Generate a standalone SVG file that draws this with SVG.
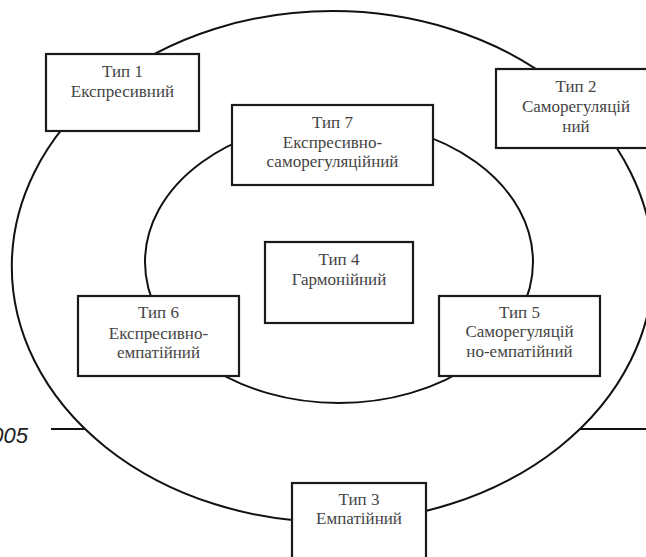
<svg xmlns="http://www.w3.org/2000/svg" width="646" height="557" viewBox="0 0 646 557">
<style>
.bg{fill:#fff}
.ell{fill:none;stroke:#111;stroke-width:2}
.ln{stroke:#111;stroke-width:2;fill:none}
.box{fill:#fff;stroke:#1a1a1a;stroke-width:2.2}
.t{font-size:17px;fill:#444;text-anchor:middle}
.lbl{font-family:'Liberation Sans',Arial,sans-serif;font-size:22px;font-style:italic;fill:#222;text-anchor:end}
</style>
<rect class="bg" x="0" y="0" width="646" height="557"/>
<g id="connectors">
<ellipse class="ell" cx="332.5" cy="266.5" rx="320.7" ry="255.5"/>
<ellipse class="ell" cx="339" cy="262" rx="194" ry="141"/>
<line class="ln" x1="51" y1="429" x2="85" y2="429"/>
<line class="ln" x1="580" y1="429" x2="646" y2="429"/>
</g>
<text class="lbl" x="28" y="443">005</text>
<g id="nodes" font-family="Liberation Serif, Times New Roman, Tinos, Noto Serif, DejaVu Serif, serif">
<g id="node1">
<rect class="box" x="46" y="54" width="153" height="77"/>
<text class="t" x="122.5" y="77">Тип 1</text>
<text class="t" x="122.5" y="97">Експресивний</text>
</g>
<g id="node2">
<rect class="box" x="496" y="69" width="160" height="79"/>
<text class="t" x="576" y="92">Тип 2</text>
<text class="t" x="576" y="112">Саморегуляцій</text>
<text class="t" x="576" y="132">ний</text>
</g>
<g id="node7">
<rect class="box" x="232" y="105" width="201" height="80"/>
<text class="t" x="332.5" y="128">Тип 7</text>
<text class="t" x="332.5" y="148">Експресивно-</text>
<text class="t" x="332.5" y="167">саморегуляційний</text>
</g>
<g id="node4">
<rect class="box" x="265" y="242" width="148" height="81"/>
<text class="t" x="339" y="265">Тип 4</text>
<text class="t" x="339" y="285">Гармонійний</text>
</g>
<g id="node6">
<rect class="box" x="78" y="296" width="161" height="80"/>
<text class="t" x="158.5" y="318">Тип 6</text>
<text class="t" x="158.5" y="339">Експресивно-</text>
<text class="t" x="158.5" y="358">емпатійний</text>
</g>
<g id="node5">
<rect class="box" x="439" y="296" width="161" height="80"/>
<text class="t" x="519.5" y="318">Тип 5</text>
<text class="t" x="519.5" y="337">Саморегуляцій</text>
<text class="t" x="519.5" y="357">но-емпатійний</text>
</g>
<g id="node3">
<rect class="box" x="292" y="483" width="134" height="90"/>
<text class="t" x="359" y="505">Тип 3</text>
<text class="t" x="359" y="524">Емпатійний</text>
</g>
</g>
</svg>
